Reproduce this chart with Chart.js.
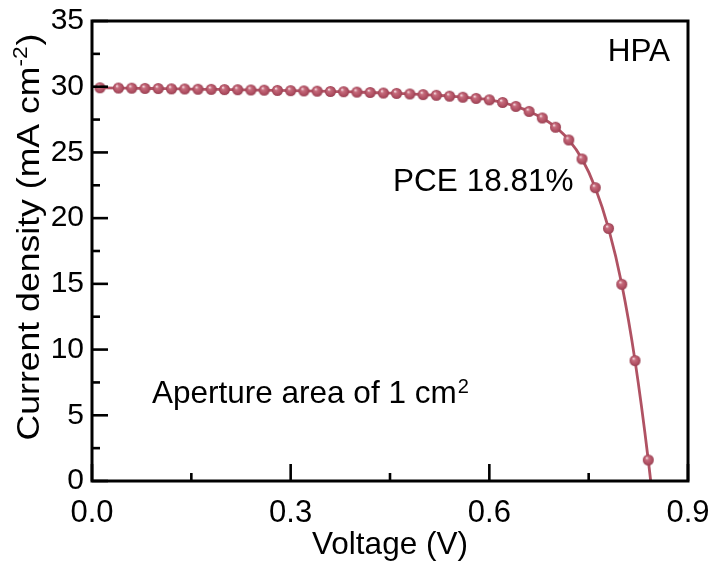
<!DOCTYPE html>
<html>
<head>
<meta charset="utf-8">
<script src="https://cdn.jsdelivr.net/npm/chart.js@4/dist/chart.umd.min.js"></script>
<style>
  html, body { margin: 0; padding: 0; background: #ffffff; }
  #wrap { width: 709px; height: 567px; }
</style>
</head>
<body>
<div id="wrap"><canvas id="c" width="709" height="567"></canvas></div>
<script>
const voltage = [0.012, 0.04, 0.06, 0.08, 0.10, 0.12, 0.14, 0.16, 0.18, 0.20,
                 0.22, 0.24, 0.26, 0.28, 0.30, 0.32, 0.34, 0.36, 0.38, 0.40,
                 0.42, 0.44, 0.46, 0.48, 0.50, 0.52, 0.54, 0.56, 0.58, 0.60,
                 0.62, 0.64, 0.66, 0.68, 0.70, 0.72, 0.74, 0.76, 0.78, 0.80,
                 0.82, 0.84, 0.86];
const currentDensity = [29.92, 29.90, 29.89, 29.87, 29.86, 29.84, 29.83, 29.81, 29.80, 29.78,
                        29.77, 29.75, 29.74, 29.72, 29.70, 29.68, 29.66, 29.64, 29.62, 29.59,
                        29.56, 29.52, 29.49, 29.45, 29.40, 29.35, 29.28, 29.20, 29.11, 29.00,
                        28.80, 28.50, 28.12, 27.62, 26.92, 25.95, 24.50, 22.32, 19.22, 14.97,
                        9.16, 1.60, -7.6];
const xTickValues = [0.0, 0.3, 0.6, 0.9];
const xMinorValues = [0.15, 0.45, 0.75];
const yTickValues = [0, 5, 10, 15, 20, 25, 30, 35];
const yMinorValues = [2.5, 7.5, 12.5, 17.5, 22.5, 27.5, 32.5];
const xTitle = 'Voltage (V)';
const yTitleMain = 'Current density (mA cm';
const yTitleSup = '-2';
const yTitleEnd = ')';
const sampleLabel = 'HPA';
const pceLabel = 'PCE 18.81%';
const areaLabelMain = 'Aperture area of 1 cm';
const areaLabelSup = '2';

// ---- Styles ----
const FONT = '"Liberation Sans", Arial, sans-serif';
const CURVE = '#b05263';

// shaded sphere marker
function makeBall(r) {
  const s = Math.ceil(r * 2 + 2);
  const cv = document.createElement('canvas');
  cv.width = s; cv.height = s;
  const g = cv.getContext('2d');
  const c = s / 2;
  const grad = g.createRadialGradient(c - r * 0.3, c - r * 0.4, 0.3, c, c, r);
  grad.addColorStop(0, '#f8e2e6');
  grad.addColorStop(0.28, '#c66c7d');
  grad.addColorStop(0.75, '#b04f62');
  grad.addColorStop(1, '#963e50');
  g.fillStyle = grad;
  g.beginPath(); g.arc(c, c, r, 0, Math.PI * 2); g.fill();
  return cv;
}
const ball = makeBall(5.5);

const points = voltage.map((v, i) => ({ x: v, y: currentDensity[i] }));

const framePlugin = {
  id: 'frameTicks',
  afterDatasetsDraw(chart) {
    const { ctx, chartArea: a, scales: { x, y } } = chart;
    ctx.save();
    ctx.strokeStyle = '#000';
    ctx.lineCap = 'butt';
    ctx.lineWidth = 2.6;
    const tick = (px0, py0, px1, py1) => { ctx.beginPath(); ctx.moveTo(px0, py0); ctx.lineTo(px1, py1); ctx.stroke(); };
    xTickValues.forEach(v => { const p = x.getPixelForValue(v); tick(p, a.bottom, p, a.bottom - 17); });
    xMinorValues.forEach(v => { const p = x.getPixelForValue(v); tick(p, a.bottom, p, a.bottom - 8); });
    yTickValues.forEach(v => { const p = y.getPixelForValue(v); tick(a.left, p, a.left + 16, p); });
    yMinorValues.forEach(v => { const p = y.getPixelForValue(v); tick(a.left, p, a.left + 8, p); });
    ctx.lineWidth = 3;
    ctx.strokeRect(a.left, a.top, a.right - a.left, a.bottom - a.top);

    // annotations placed in data coordinates
    ctx.fillStyle = '#000';
    ctx.textBaseline = 'alphabetic';
    ctx.font = '31.5px ' + FONT;
    ctx.textAlign = 'right';
    ctx.fillText(sampleLabel, x.getPixelForValue(0.873), y.getPixelForValue(31.96));
    ctx.textAlign = 'left';
    ctx.fillText(pceLabel, x.getPixelForValue(0.4547), y.getPixelForValue(22.03));
    const ax = x.getPixelForValue(0.0906), ay = y.getPixelForValue(5.94);
    ctx.fillText(areaLabelMain, ax, ay);
    const aw = ctx.measureText(areaLabelMain).width;
    ctx.font = '20px ' + FONT;
    ctx.fillText(areaLabelSup, ax + aw + 1, ay - 10);

    // y-axis title with superscript
    ctx.save();
    ctx.translate(39, (a.top + a.bottom) / 2 - 14);
    ctx.rotate(-Math.PI / 2);
    ctx.scale(1.13, 1);
    ctx.font = '31.5px ' + FONT;
    const w1 = ctx.measureText(yTitleMain).width;
    ctx.font = '20px ' + FONT;
    const w2 = ctx.measureText(yTitleSup).width;
    ctx.font = '31.5px ' + FONT;
    const w3 = ctx.measureText(yTitleEnd).width;
    const total = w1 + w2 + w3 + 1;
    let cx = -total / 2;
    ctx.textAlign = 'left';
    ctx.fillText(yTitleMain, cx, 0); cx += w1;
    ctx.font = '20px ' + FONT;
    ctx.fillText(yTitleSup, cx, -12); cx += w2 + 1;
    ctx.font = '31.5px ' + FONT;
    ctx.fillText(yTitleEnd, cx, 0);
    ctx.restore();
    ctx.restore();
  }
};

new Chart(document.getElementById('c'), {
  type: 'line',
  data: {
    datasets: [{
      data: points,
      borderColor: CURVE,
      borderWidth: 2.8,
      pointStyle: ball,
      pointRadius: 5.5,
      pointHoverRadius: 5.5,
      cubicInterpolationMode: 'monotone',
      fill: false
    }]
  },
  options: {
    responsive: false,
    animation: false,
    devicePixelRatio: 1,
    layout: { padding: { top: 21, right: 21, left: 0, bottom: 0 } },
    plugins: { legend: { display: false }, tooltip: { enabled: false } },
    scales: {
      x: {
        type: 'linear', min: 0, max: 0.9,
        grid: { display: false, drawTicks: false },
        border: { display: false },
        afterBuildTicks: s => { s.ticks = xTickValues.map(v => ({ value: v })); },
        ticks: { color: '#000', font: { family: FONT, size: 31 }, padding: 14, maxRotation: 0,
                 callback: v => v.toFixed(1) },
        title: { display: true, text: xTitle, color: '#000', font: { family: FONT, size: 31.5 }, padding: { top: 0, bottom: 3 } },
        afterFit: s => { s.height = 86; s.paddingLeft = 0; s.paddingRight = 0; }
      },
      y: {
        min: 0, max: 35,
        grid: { display: false, drawTicks: false },
        border: { display: false },
        afterBuildTicks: s => { s.ticks = yTickValues.map(v => ({ value: v })); },
        ticks: { color: '#000', font: { family: FONT, size: 30 }, padding: 8 },
        afterFit: s => { s.width = 92; s.paddingTop = 0; s.paddingBottom = 0; }
      }
    }
  },
  plugins: [framePlugin]
});
</script>
</body>
</html>
